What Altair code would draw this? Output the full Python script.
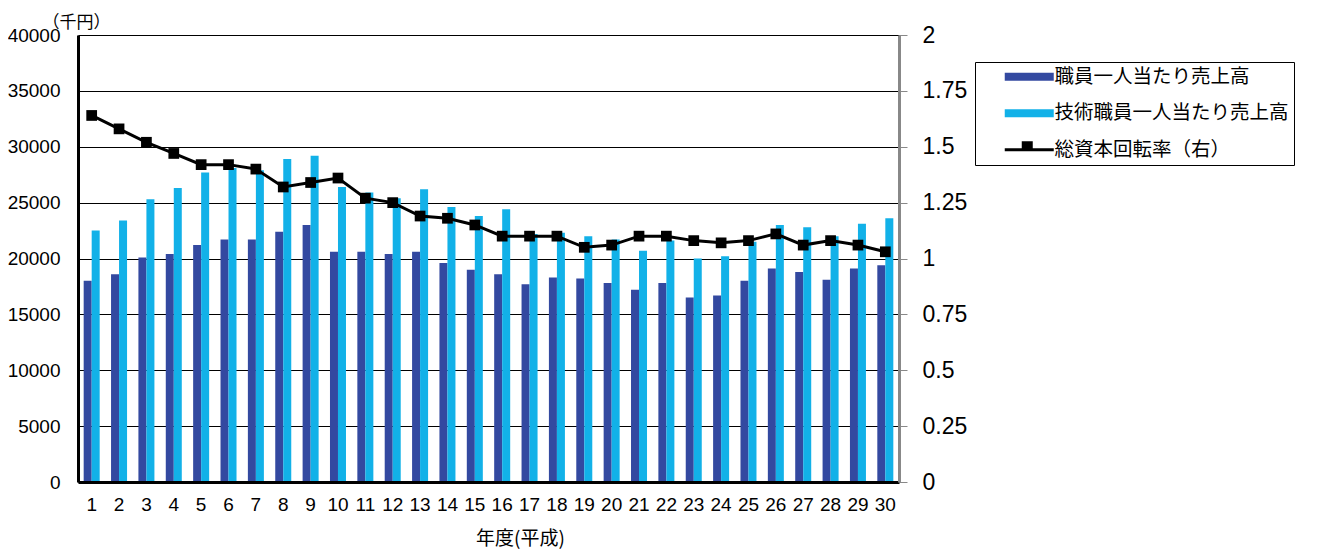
import altair as alt
import pandas as pd

years = list(range(1, 31))
staff_sales = [18000, 18600, 20100, 20400, 21200, 21700, 21700, 22400, 23000, 20600,
               20600, 20400, 20600, 19600, 19000, 18600, 17700, 18300, 18200, 17800,
               17200, 17800, 16500, 16700, 18000, 19100, 18800, 18100, 19100, 19400]
tech_sales = [22500, 23400, 25300, 26300, 27700, 28100, 27900, 28900, 29200, 26400,
              25900, 25400, 26200, 24600, 23800, 24400, 22200, 22300, 22000, 21700,
              20700, 21600, 20000, 20200, 21500, 23000, 22800, 22000, 23100, 23600]
turnover = [1.64, 1.58, 1.52, 1.47, 1.42, 1.42, 1.40, 1.32, 1.34, 1.36,
            1.27, 1.25, 1.19, 1.18, 1.15, 1.10, 1.10, 1.10, 1.05, 1.06,
            1.10, 1.10, 1.08, 1.07, 1.08, 1.11, 1.06, 1.08, 1.06, 1.03]

S1 = "職員一人当たり売上高"
S2 = "技術職員一人当たり売上高"
S3 = "総資本回転率（右）"
series_names = [S1, S2, S3]
series_colors = ["#3349A0", "#12B1E8", "#000000"]

rect_path = "M3,-0.8H12.8V0.8H3Z"
line_path = "M3,-0.3H12.8V0.3H3Z M6.4,-1.7H8.6V0.3H6.4Z"

bars_df = pd.DataFrame({
    "year": years * 2,
    "series": [S1] * len(years) + [S2] * len(years),
    "value": staff_sales + tech_sales,
})
line_df = pd.DataFrame({"year": years, "series": S3, "value": turnover})
legend_df = pd.DataFrame({"series": series_names})

JP = "Noto Sans CJK JP"

x_enc = alt.X(
    "year:O",
    scale=alt.Scale(paddingInner=0.415, paddingOuter=0.2075),
    axis=alt.Axis(
        title="年度(平成)", labelAngle=0, ticks=False, labelPadding=13,
        labelFont="Liberation Sans Narrow, Liberation Sans", labelFontSize=19,
        labelColor="#000", domainColor="#000", domainWidth=3, zindex=1,
        titleFont=JP, titleFontSize=19, titleFontWeight="normal", titleColor="#000",
        titleX=442, titleY=62, titleAlign="center", titleBaseline="alphabetic",
    ),
)

bars = alt.Chart(bars_df).mark_bar().encode(
    x=x_enc,
    xOffset=alt.XOffset("series:N", scale=alt.Scale(domain=[S1, S2], paddingInner=0, paddingOuter=0)),
    y=alt.Y(
        "value:Q",
        scale=alt.Scale(domain=[0, 40000], nice=False),
        axis=alt.Axis(
            values=list(range(0, 40001, 5000)), format="d", ticks=False, labelPadding=18,
            labelFont="Liberation Sans", labelFontSize=19, labelColor="#000",
            domainColor="#000", domainWidth=3, grid=True, gridColor="#000", gridWidth=1,
            title="（千円）", titleAngle=0, titleX=-2, titleY=-13, titleAlign="center",
            titleBaseline="middle", titleFont=JP, titleFontSize=17, titleFontWeight="normal",
            titleColor="#000",
        ),
    ),
    fill=alt.Fill("series:N", scale=alt.Scale(domain=[S1, S2], range=series_colors[:2]), legend=None),
)

line = alt.Chart(line_df).mark_line(
    color="#000", strokeWidth=3,
    point=alt.OverlayMarkDef(shape="square", filled=True, size=115, color="#000"),
).encode(
    x=alt.X("year:O"),
    y=alt.Y(
        "value:Q",
        scale=alt.Scale(domain=[0, 2], nice=False),
        axis=alt.Axis(
            orient="right", values=[0, 0.25, 0.5, 0.75, 1, 1.25, 1.5, 1.75, 2],
            labelExpr="datum.value + ''", grid=False, tickSize=8, tickColor="#888", tickWidth=1,
            labelPadding=15, labelFont="Liberation Sans", labelFontSize=23,
            labelColor="#000", domainColor="#888", domainWidth=3, title=None, zindex=1,
        ),
    ),
)

legend_def = alt.Legend(
    title=None, orient="none", legendX=897, legendY=27, padding=5,
    symbolSize=100, symbolStrokeWidth=0, labelOffset=55, rowPadding=15.5,
    labelFont=JP, labelFontSize=19.5, labelColor="#000",
    strokeColor="#000", fillColor="#fff", labelLimit=400,
)

legend_layer = alt.Chart(legend_df).transform_filter("false").mark_point(filled=True, opacity=1).encode(
    color=alt.Color("series:N", scale=alt.Scale(domain=series_names, range=series_colors),
                    legend=legend_def),
    shape=alt.Shape("series:N", scale=alt.Scale(domain=series_names,
                                                range=[rect_path, rect_path, line_path]),
                    legend=legend_def),
)

chart = alt.layer(bars, line, legend_layer).resolve_scale(y="independent").properties(
    width=821, height=447,
    autosize=alt.AutoSizeParams(type="none"),
    padding={"left": 70, "top": 27, "right": 412, "bottom": 67},
).configure_view(stroke="#000", strokeWidth=2).configure(background="#ffffff")

chart.save("out.html", embed_options={"renderer": "svg", "actions": False})
